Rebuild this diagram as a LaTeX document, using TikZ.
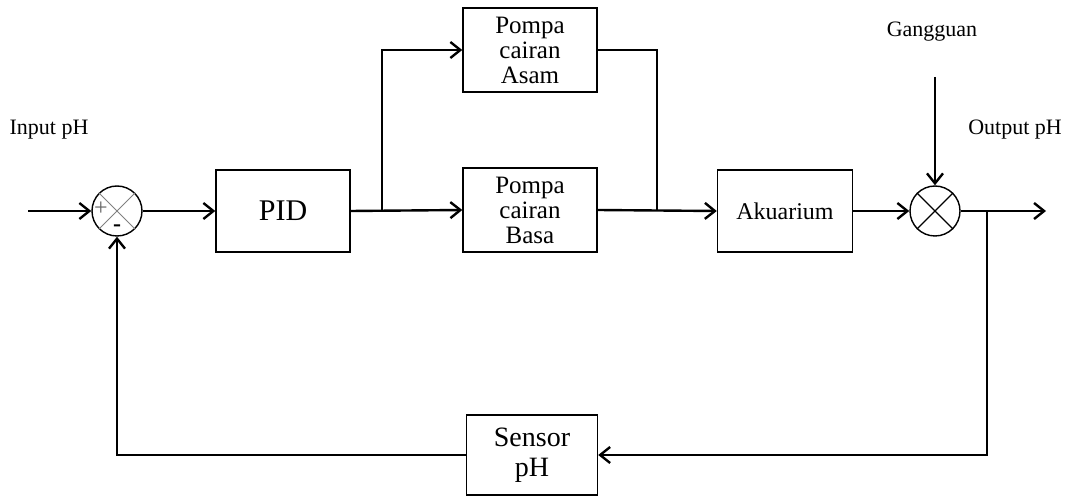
\documentclass[tikz,border=0pt]{standalone}
\usepackage{fontspec}
\setmainfont{Liberation Serif}
\usetikzlibrary{arrows.meta,positioning}

\begin{document}
\begin{tikzpicture}[
        x=0.5pt, y=-0.5pt,
        block/.style={draw, line width=0.7pt, rectangle, inner sep=0pt, align=center},
        sumpt/.style={draw, line width=0.7pt, circle, minimum size=25pt, inner sep=0pt},
        sig/.style={line width=1.2pt, -{Straight Barb[length=5pt,width=8pt]}},
        wire/.style={line width=1.2pt},
        lbl/.style={font=\fontsize{11}{13}\selectfont} % labels outside the blocks
    ]
    \useasboundingbox (0,0) rectangle (1073,497);

    % blocks
    \node[block, minimum width=67pt, minimum height=41pt, font=\fontsize{15}{15}\selectfont] (pid) at (283,211) {PID};
    \node[block, minimum width=67pt, minimum height=42pt, font=\fontsize{12.5}{12.5}\selectfont] (asam) at (530,50) {Pompa\\cairan\\Asam};
    \node[block, minimum width=67pt, minimum height=42pt, font=\fontsize{12.5}{12.5}\selectfont] (basa) at (530,210) {Pompa\\cairan\\Basa};
    \node[block, minimum width=67.5pt, minimum height=41pt, font=\fontsize{12}{12}\selectfont] (aku) at (785,211) {Akuarium};
    \node[block, minimum width=65.5pt, minimum height=40pt, font=\fontsize{14}{15}\selectfont] (sensor) at (532,455) {Sensor\\pH};

    % summing points
    \node[sumpt] (s1) at (117,211) {};
    \draw[line width=0.5pt, gray] (s1.north west) -- (s1.south east) (s1.north east) -- (s1.south west);
    \node[font=\fontsize{12}{12}\selectfont, text=gray!80!black] (plus) at (101,209) {+};
    \node[font=\bfseries\fontsize{12}{12}\selectfont] (minus) at (117,228) {-};
    \node[sumpt] (s2) at (935,211) {};
    \draw[line width=0.7pt] (s2.north west) -- (s2.south east) (s2.north east) -- (s2.south west);

    % labels
    \node[lbl] (inlbl) at (49,130) {Input pH};
    \node[lbl] (outlbl) at (1015,130) {Output pH};
    \node[lbl] (ganglbl) at (932,32) {Gangguan};

    % free ends and branch points
    \coordinate (inp) at (28,211);
    \coordinate (br1) at (382,211);
    \coordinate (br2) at (657,210);
    \coordinate (gang) at (935,77);
    \coordinate (out) at (1046,211);
    \coordinate (br3) at (987,211);

    % connectors
    \draw[sig] (inp) -- (s1.west);
    \draw[sig] (s1.east) -- (pid.west);
    \draw[sig] (pid.east) -- (basa.west);
    \draw[sig] (br1) |- (asam.west);
    \draw[wire] (asam.east) -| (br2);
    \draw[sig] (basa.east) -- (aku.west);
    \draw[sig] (aku.east) -- (s2.west);
    \draw[sig] (gang) -- (s2.north);
    \draw[sig] (s2.east) -- (out);
    \draw[sig] (br3) |- (sensor.east);
    \draw[sig] (sensor.west) -| (s1.south);
\end{tikzpicture}
\end{document}
